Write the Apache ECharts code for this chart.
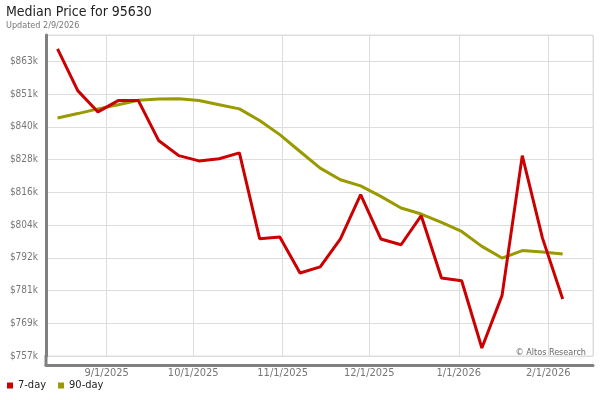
<!DOCTYPE html>
<html>
<head>
<meta charset="utf-8">
<script src="https://cdn.jsdelivr.net/npm/echarts@6/dist/echarts.min.js"></script>
<style>html,body{margin:0;padding:0;background:#fff}#c{width:600px;height:400px}</style>
</head>
<body>
<div id="c"></div>
<script>
const titleText = 'Median Price for 95630';
const subtitleText = 'Updated 2/9/2026';
const watermarkText = '\u00A9 Altos Research';
const seriesNames = ['7-day', '90-day'];
const dates = ['2025-08-15','2025-08-22','2025-08-29','2025-09-05','2025-09-12','2025-09-19','2025-09-26',
  '2025-10-03','2025-10-10','2025-10-17','2025-10-24','2025-10-31','2025-11-07','2025-11-14','2025-11-21',
  '2025-11-28','2025-12-05','2025-12-12','2025-12-19','2025-12-26','2026-01-02','2026-01-09','2026-01-16',
  '2026-01-23','2026-01-30','2026-02-06'];
// values in $ thousands
const sevenDay = [868.0, 852.9, 845.2, 849.3, 849.3, 834.9, 829.4, 827.5, 828.3, 830.4, 799.4, 800.0, 787.0,
  789.2, 799.3, 815.3, 799.3, 797.2, 807.7, 785.2, 784.2, 759.9, 778.9, 829.4, 799.6, 777.6];
const ninetyDay = [843.0, 844.6, 846.3, 847.8, 849.4, 849.9, 850.0, 849.3, 847.8, 846.3, 842.1, 837.0, 830.9,
  824.9, 820.7, 818.5, 814.7, 810.5, 808.3, 805.3, 802.0, 796.6, 792.4, 795.1, 794.6, 793.9];
const yTickLabels = ['$757k','$769k','$781k','$792k','$804k','$816k','$828k','$840k','$851k','$863k'];
const yMin = 757, yMax = 873, yInterval = 757 / 64;
const xMin = '2025-08-11', xMax = '2026-02-16 12:00';

const FONT = '"DejaVu Sans Condensed", "DejaVu Sans", sans-serif';
const chart = echarts.init(document.getElementById('c'), null, {renderer: 'canvas'});
const toPairs = arr => arr.map((v, i) => [dates[i], v]);
chart.setOption({
  animation: false,
  textStyle: {fontFamily: FONT},
  title: {
    text: titleText, subtext: subtitleText, left: 6, top: 5, padding: 0, itemGap: 2,
    textStyle: {fontSize: 14, fontWeight: 'normal', color: '#222', fontFamily: FONT},
    subtextStyle: {fontSize: 9, color: '#777', fontFamily: FONT}
  },
  legend: {
    data: seriesNames, left: 7, top: 380, icon: 'rect', itemWidth: 6, itemHeight: 6, itemGap: 12,
    padding: 0, textStyle: {fontSize: 11, color: '#222', fontFamily: FONT}
  },
  grid: {left: 46, right: 7, top: 35, bottom: 44, show: true, borderColor: '#ddd', borderWidth: 1},
  xAxis: {
    type: 'time', min: xMin, max: xMax, offset: 9, splitNumber: 6,
    minInterval: 28 * 86400000, maxInterval: 31 * 86400000,
    axisLine: {show: true, lineStyle: {color: '#808080', width: 3}},
    axisTick: {show: false},
    axisLabel: {
      color: '#777', fontSize: 11, margin: 3, showMinLabel: false, showMaxLabel: false, fontWeight: 'normal',
      formatter: v => { const d = new Date(v); return (d.getMonth() + 1) + '/' + d.getDate() + '/' + d.getFullYear(); }
    },
    splitLine: {show: true, lineStyle: {color: '#ddd', width: 1}}
  },
  yAxis: {
    type: 'value', min: yMin, max: yMax, interval: yInterval,
    axisLine: {show: true, lineStyle: {color: '#808080', width: 3}},
    axisTick: {show: false},
    axisLabel: {
      color: '#777', fontSize: 10, margin: 8, showMaxLabel: false,
      formatter: v => { const k = Math.round((v - yMin) / yInterval); return Math.abs(yMin + k * yInterval - v) < 0.01 && k < yTickLabels.length ? yTickLabels[k] : ''; }
    },
    splitLine: {show: true, lineStyle: {color: '#ddd', width: 1}}
  },
  series: [
    {name: seriesNames[1], type: 'line', data: toPairs(ninetyDay), showSymbol: false, symbol: 'none',
     lineStyle: {color: '#999900', width: 3}, itemStyle: {color: '#999900'}, z: 2},
    {name: seriesNames[0], type: 'line', data: toPairs(sevenDay), showSymbol: false, symbol: 'none',
     lineStyle: {color: '#cc0000', width: 3}, itemStyle: {color: '#cc0000'}, z: 3}
  ],
  graphic: [
    {type: 'rect', left: 44.5, top: 355, shape: {width: 3, height: 11}, style: {fill: '#808080'}, silent: true},
    {type: 'text', right: 14, top: 348, style: {text: watermarkText, fontSize: 9, fill: '#666', fontFamily: FONT}, silent: true}
  ]
});
</script>
</body>
</html>
